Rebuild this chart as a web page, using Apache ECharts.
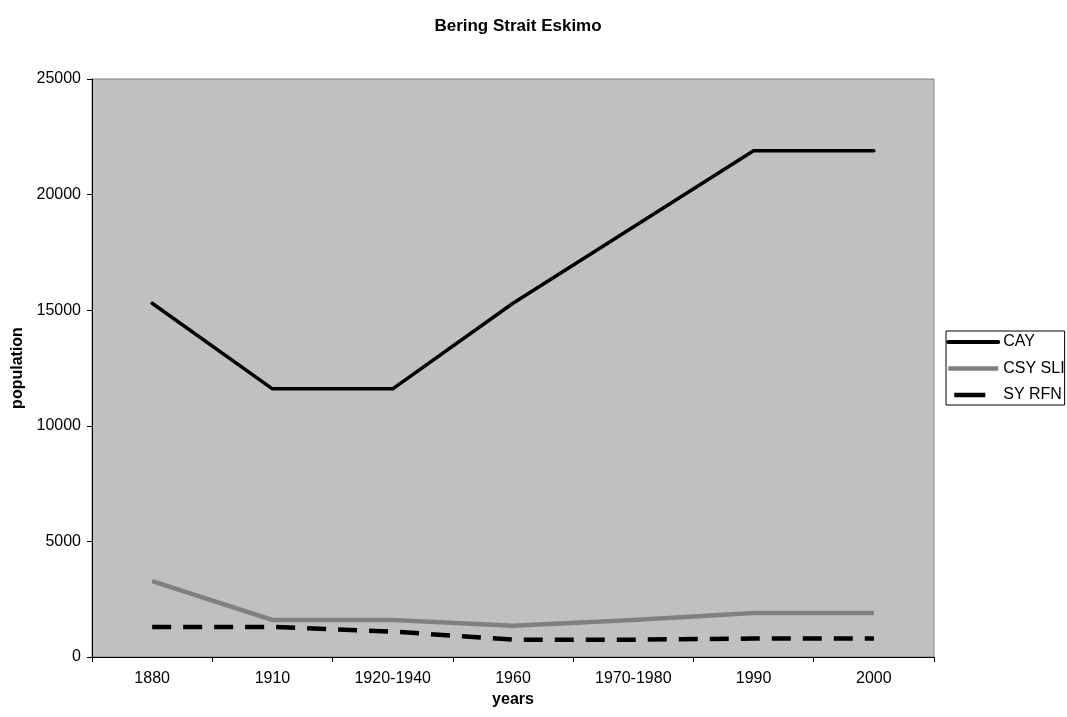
<!DOCTYPE html>
<html>
<head>
<meta charset="utf-8">
<style>
  html, body { margin: 0; padding: 0; background: #fff; }
  #chart { width: 1067px; height: 717px; }
</style>
<script src="https://cdn.jsdelivr.net/npm/echarts@6/dist/echarts.min.js"></script>
</head>
<body>
<div id="chart"></div>
<script>
// Population by period, Bering Strait Eskimo groups
const years = ['1880', '1910', '1920-1940', '1960', '1970-1980', '1990', '2000'];
const cay = [15300, 11600, 11600, 15300, 18600, 21900, 21900];
const csySli = [3280, 1600, 1600, 1350, 1600, 1900, 1900];
const syRfn = [1300, 1300, 1100, 750, 750, 800, 800];
const yTicks = { min: 0, max: 25000, interval: 5000 };

const font = 'Liberation Sans, Arial, sans-serif';
const chart = echarts.init(document.getElementById('chart'), null, { renderer: 'canvas' });

chart.setOption({
  backgroundColor: '#ffffff',
  animation: false,
  textStyle: { fontFamily: font },
  title: {
    text: 'Bering Strait Eskimo',
    left: 513,
    textAlign: 'center',
    top: 13,
    textStyle: { fontFamily: font, fontSize: 17, fontWeight: 'bold', color: '#000' }
  },
  grid: {
    left: 92, right: 133, top: 79, bottom: 60,
    show: true,
    backgroundColor: '#c0c0c0',
    borderColor: '#808080',
    borderWidth: 1
  },
  legend: {
    orient: 'vertical',
    left: 946,
    top: 331,
    padding: [3, 0, 2, 0],
    itemGap: 10.5,
    itemWidth: 50,
    itemHeight: 16,
    backgroundColor: '#ffffff',
    borderColor: '#000000',
    borderWidth: 1,
    borderRadius: 0,
    itemStyle: { opacity: 0 },
    textStyle: { fontFamily: font, fontSize: 16, color: '#000' },
    data: [
      { name: 'CAY', lineStyle: { width: 4, color: '#000000', cap: 'round' } },
      { name: 'CSY SLI', lineStyle: { width: 4.5, color: '#808080' } },
      // a single dash stands for the dashed series in the key
      { name: 'SY RFN', lineStyle: { type: [0, 6, 31, 100], width: 4.5, color: '#000000' } }
    ]
  },
  xAxis: {
    type: 'category',
    data: years,
    boundaryGap: true,
    name: 'years',
    nameLocation: 'middle',
    nameGap: 33,
    nameTextStyle: { fontFamily: font, fontSize: 16, fontWeight: 'bold', color: '#000' },
    axisLine: { show: true, lineStyle: { color: '#000', width: 1 } },
    axisTick: { show: true, length: 5, inside: false, lineStyle: { color: '#000' } },
    axisLabel: { fontFamily: font, fontSize: 16, color: '#000', margin: 14 },
    splitLine: { show: false }
  },
  yAxis: {
    type: 'value',
    min: yTicks.min,
    max: yTicks.max,
    interval: yTicks.interval,
    name: 'population',
    nameLocation: 'middle',
    nameGap: 66,
    nameTextStyle: { fontFamily: font, fontSize: 16, fontWeight: 'bold', color: '#000' },
    axisLine: { show: true, lineStyle: { color: '#000', width: 1 } },
    axisTick: { show: true, length: 5, inside: false, lineStyle: { color: '#000' } },
    axisLabel: { fontFamily: font, fontSize: 16, color: '#000', margin: 11, formatter: v => String(v) },
    splitLine: { show: false }
  },
  series: [
    {
      name: 'CAY',
      type: 'line',
      data: cay,
      symbol: 'none',
      lineStyle: { color: '#000000', width: 3.5, cap: 'round', join: 'round' },
      itemStyle: { color: '#000000' }
    },
    {
      name: 'CSY SLI',
      type: 'line',
      data: csySli,
      symbol: 'none',
      lineStyle: { color: '#808080', width: 4.5, cap: 'butt', join: 'miter' },
      itemStyle: { color: '#808080' }
    },
    {
      name: 'SY RFN',
      type: 'line',
      data: syRfn,
      symbol: 'none',
      lineStyle: { color: '#000000', width: 4.5, type: [19, 12], cap: 'butt' },
      itemStyle: { color: '#000000' }
    }
  ]
});
</script>
</body>
</html>
